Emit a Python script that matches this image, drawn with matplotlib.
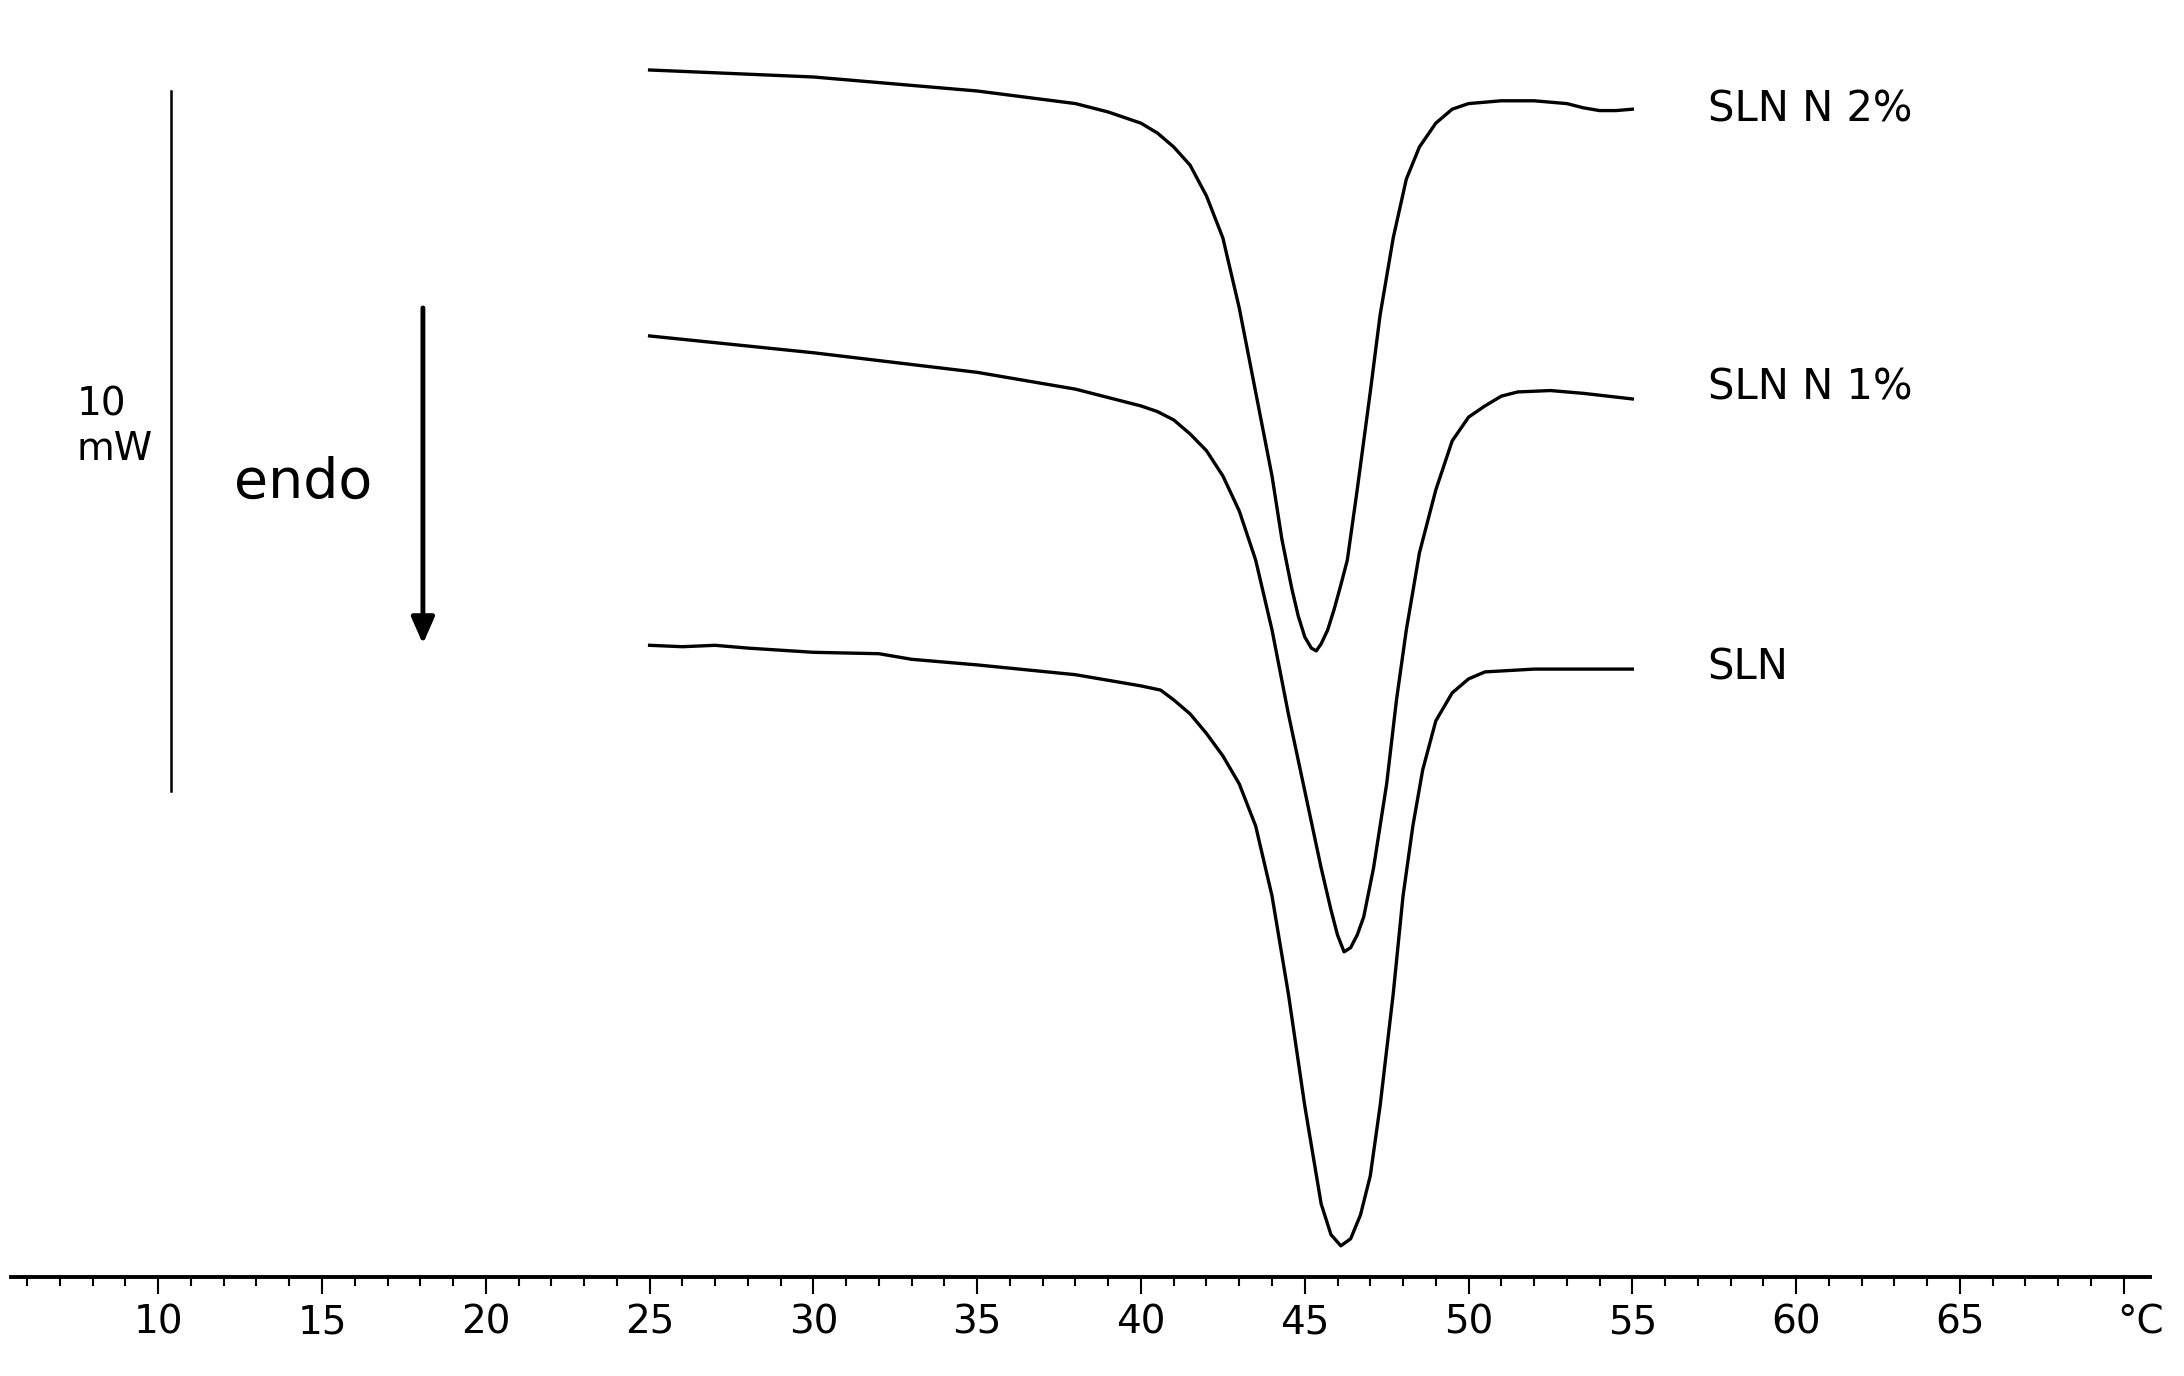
import matplotlib
matplotlib.use("Agg")
import matplotlib.pyplot as plt

# temperatures (°C) and signal (vertical position, screen-like units, down = endo)
t2 = [25, 30, 35, 38, 39, 40, 40.5, 41, 41.5, 42, 42.5, 43, 43.5, 44, 44.3, 44.6, 44.8, 45.0, 45.2, 45.35, 45.5, 45.7, 45.9, 46.1, 46.3, 46.6, 47, 47.3, 47.7, 48.1, 48.5, 49, 49.5, 50, 51, 52, 53, 53.5, 54, 54.5, 55]
y2 = [50, 55, 65, 74, 80, 88, 95, 105, 118, 140, 170, 220, 280, 340, 385, 420, 440, 455, 463, 465, 460, 450, 435, 418, 400, 350, 280, 225, 170, 128, 105, 88, 78, 74, 72, 72, 74, 77, 79, 79, 78]
t1 = [25, 30, 35, 38, 40, 40.5, 41, 41.5, 42, 42.5, 43, 43.5, 44, 44.5, 45, 45.5, 45.8, 46.0, 46.2, 46.4, 46.6, 46.8, 47.1, 47.5, 47.8, 48.1, 48.5, 49, 49.5, 50, 50.5, 51, 51.5, 52.5, 53.5, 55]
y1 = [240, 252, 266, 278, 290, 294, 300, 310, 322, 340, 365, 400, 450, 510, 565, 620, 650, 668, 680, 677, 668, 655, 620, 560, 500, 450, 395, 350, 315, 298, 290, 283, 280, 279, 281, 285]
t0 = [25, 26, 27, 28, 30, 32, 33, 35, 38, 40, 40.6, 41, 41.5, 42, 42.5, 43, 43.5, 44, 44.5, 45, 45.5, 45.8, 46.1, 46.4, 46.7, 47, 47.3, 47.7, 48, 48.3, 48.6, 49, 49.5, 50, 50.5, 52, 53, 55]
y0 = [461, 462, 461, 463, 466, 467, 471, 475, 482, 490, 493, 500, 510, 524, 540, 560, 590, 640, 710, 790, 860, 882, 890, 885, 868, 840, 790, 710, 640, 590, 550, 515, 495, 485, 480, 478, 478, 478]
labels = ["SLN N 2%", "SLN N 1%", "SLN"]
label_y = [78, 277, 477]
ticks = [10, 15, 20, 25, 30, 35, 40, 45, 50, 55, 60, 65]

fig = plt.figure(figsize=(21.84, 13.76), dpi=100)
ax = fig.add_axes([0, 0, 1, 1])
ax.set_xlim(5.17, 71.84)
ax.set_ylim(983, 0)
ax.axis("off")

for t, y in [(t2, y2), (t1, y1), (t0, y0)]:
    ax.plot(t, y, color="black", lw=2.4, solid_joinstyle="round")
for lab, ly in zip(labels, label_y):
    ax.text(57.3, ly, lab, fontsize=30, va="center", ha="left")

# x axis
ax.plot([5.5, 70.8], [912, 912], color="black", lw=2.8)
for v in range(6, 71):
    ln = 12 if v % 5 == 0 else 6
    ax.plot([v, v], [912, 912 + ln], color="black", lw=1.5)
for v in ticks:
    ax.text(v, 945, str(v), fontsize=28, ha="center", va="center")
ax.text(70.5, 945, "°C", fontsize=28, ha="center", va="center")

# scale bar
ax.plot([10.38, 10.38], [65, 565], color="black", lw=1.8)
ax.text(7.5, 305, "10\nmW", fontsize=28, ha="left", va="center", linespacing=1.2)
ax.annotate("", xy=(18.08, 462), xytext=(18.08, 218),
            arrowprops=dict(arrowstyle="-|>,head_width=0.7,head_length=1.6", color="black", lw=3.5))
ax.text(12.3, 345, "endo", fontsize=40, ha="left", va="center")

fig.savefig("out.png", dpi=100)
